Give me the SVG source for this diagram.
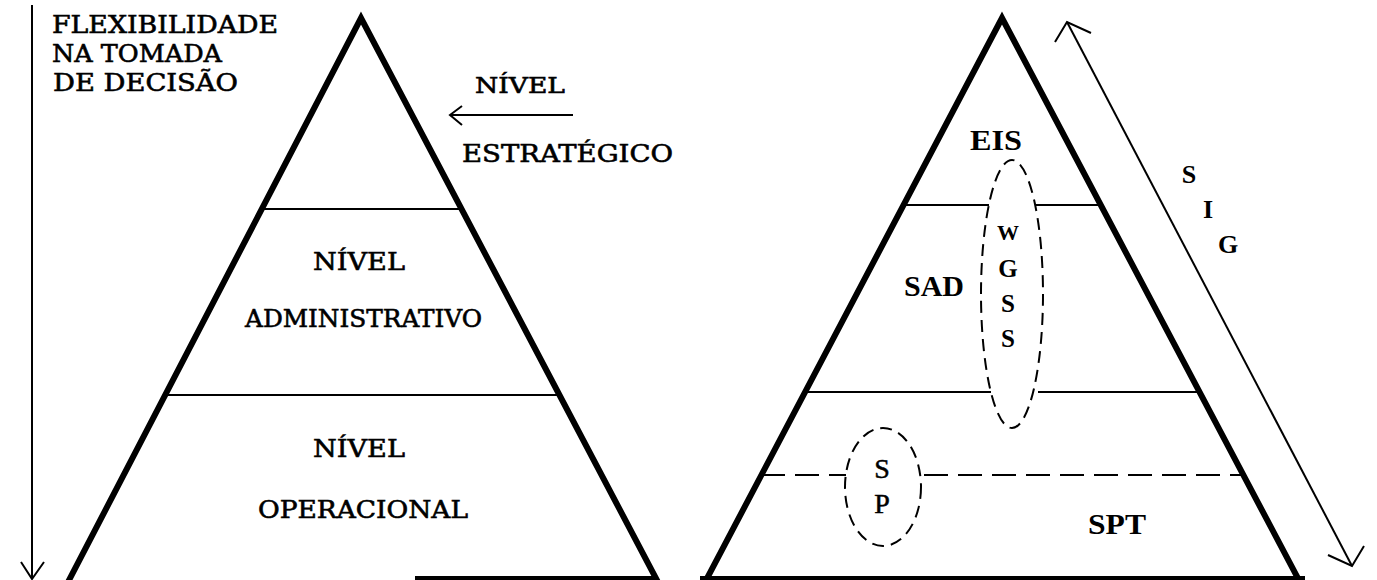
<svg xmlns="http://www.w3.org/2000/svg" width="1377" height="580" viewBox="0 0 1377 580">
<style>
.tri{fill:none;stroke:#000;stroke-width:6;stroke-linejoin:miter}
.ln{stroke:#000;stroke-width:2;fill:none}
.dash{stroke:#000;stroke-width:2;fill:none;stroke-dasharray:24 10}
.ell{stroke:#000;stroke-width:2;fill:none;stroke-dasharray:12 7}
.mono{font-family:"DejaVu Serif","Liberation Serif",serif;fill:#000;stroke:#000;stroke-width:0.6}
.ser{font-family:"Liberation Serif",serif;font-weight:bold;fill:#000}
.reg{font-family:"Liberation Serif",serif;font-weight:normal;fill:#000;stroke:#000;stroke-width:0.5}
</style>
<rect width="1377" height="580" fill="#fff"/>
<g id="left-pyramid">
  <polyline class="tri" points="66,586 361,18 660,586"/>
  <line class="ln" x1="261" y1="209" x2="462" y2="209"/>
  <line class="ln" x1="165" y1="395" x2="560" y2="395"/>
  <line x1="415" y1="578" x2="658" y2="578" stroke="#000" stroke-width="4"/>
  <text class="mono" x="313" y="270" font-size="24" textLength="92" lengthAdjust="spacingAndGlyphs">NÍVEL</text>
  <text class="mono" x="245" y="327" font-size="24" textLength="237" lengthAdjust="spacingAndGlyphs">ADMINISTRATIVO</text>
  <text class="mono" x="313" y="457" font-size="24" textLength="92" lengthAdjust="spacingAndGlyphs">NÍVEL</text>
  <text class="mono" x="258" y="518" font-size="24" textLength="210" lengthAdjust="spacingAndGlyphs">OPERACIONAL</text>
</g>
<g id="flexibilidade">
  <text class="mono" x="52" y="33" font-size="24" textLength="226" lengthAdjust="spacingAndGlyphs">FLEXIBILIDADE</text>
  <text class="mono" x="52" y="62" font-size="24" textLength="170" lengthAdjust="spacingAndGlyphs">NA TOMADA</text>
  <text class="mono" x="53" y="91" font-size="24" textLength="185" lengthAdjust="spacingAndGlyphs">DE DECISÃO</text>
</g>
<g id="estrategico">
  <text class="mono" x="475" y="93" font-size="22" textLength="90" lengthAdjust="spacingAndGlyphs">NÍVEL</text>
  <text class="mono" x="462" y="162" font-size="24" textLength="211" lengthAdjust="spacingAndGlyphs">ESTRATÉGICO</text>
</g>
<g id="right-pyramid">
  <polyline class="tri" points="703,586 1002,18 1302,586"/>
  <line class="ln" x1="903" y1="205" x2="989" y2="205"/>
  <line class="ln" x1="1035" y1="205" x2="1101" y2="205"/>
  <line class="ln" x1="805" y1="392" x2="991" y2="392"/>
  <line class="ln" x1="1038" y1="392" x2="1200" y2="392"/>
  <line class="dash" x1="761" y1="475" x2="846" y2="475" stroke-dasharray="12 8"/>
  <line class="dash" x1="924" y1="475" x2="1244" y2="475"/>
  <line x1="700" y1="578" x2="1305" y2="578" stroke="#000" stroke-width="4"/>
  <text class="ser" x="970" y="150" font-size="30" textLength="52" lengthAdjust="spacingAndGlyphs">EIS</text>
  <text class="ser" x="904" y="296" font-size="30" textLength="60" lengthAdjust="spacingAndGlyphs">SAD</text>
  <text class="ser" x="1088" y="534" font-size="30" textLength="58" lengthAdjust="spacingAndGlyphs">SPT</text>
</g>
<g id="wgss">
  <ellipse class="ell" cx="1012" cy="294" rx="31" ry="134"/>
  <text class="ser" x="1008" y="240" font-size="22" text-anchor="middle">W</text>
  <text class="ser" x="1008" y="277" font-size="25" text-anchor="middle">G</text>
  <text class="ser" x="1008" y="312" font-size="25" text-anchor="middle">S</text>
  <text class="ser" x="1008" y="347" font-size="25" text-anchor="middle">S</text>
</g>
<g id="sp">
  <ellipse class="ell" cx="883" cy="487" rx="38" ry="59"/>
  <text class="reg" x="882" y="478" font-size="28" text-anchor="middle">S</text>
  <text class="reg" x="882" y="513" font-size="28" text-anchor="middle">P</text>
</g>
<g id="sig">
  <text class="ser" x="1189" y="183" font-size="26" text-anchor="middle">S</text>
  <text class="ser" x="1208" y="218" font-size="26" text-anchor="middle">I</text>
  <text class="ser" x="1228" y="253" font-size="26" text-anchor="middle">G</text>
</g>
<g id="connectors">
  <line class="ln" x1="32" y1="5" x2="32" y2="578" stroke-width="2"/>
  <polyline class="ln" points="21,562 32,579 44,562"/>
  <line class="ln" x1="451" y1="115" x2="573" y2="115"/>
  <polyline class="ln" points="462,106 450,115 462,125"/>
  <line class="ln" x1="1067" y1="22" x2="1352" y2="566" stroke-width="1.6"/>
  <polyline class="ln" points="1055,42 1067,22 1091,33" stroke-width="1.6"/>
  <polyline class="ln" points="1364,546 1352,566 1328,555" stroke-width="1.6"/>
</g>
</svg>
